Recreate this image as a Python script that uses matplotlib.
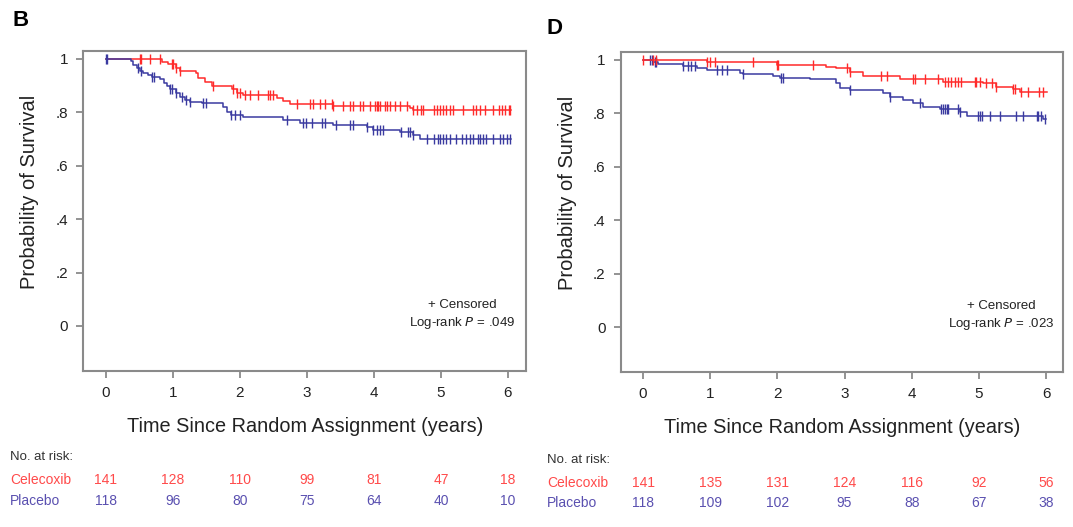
import numpy as np
import matplotlib
matplotlib.use("Agg")
import matplotlib.pyplot as plt
import matplotlib.transforms as mtransforms

# ---------------- data ----------------
# Panel B
b_red_t = [0, 0.83, 0.93, 1.05, 1.10, 1.35, 1.38, 1.48, 1.58, 1.88, 1.95, 2.05, 2.55, 2.65, 2.75, 3.39, 4.54, 4.59]
b_red_s = [1.0, 0.990, 0.981, 0.965, 0.955, 0.946, 0.928, 0.915, 0.899, 0.886, 0.871, 0.865, 0.853, 0.844, 0.831, 0.824, 0.815, 0.809]
b_red_end = 6.05
b_red_cens = [0.51, 0.53, 0.66, 0.81, 0.98, 1.00, 1.05, 1.10, 1.60, 1.90, 1.95, 2.00, 2.07, 2.15, 2.27, 2.42, 2.45, 2.50,
              2.85, 3.04, 3.09, 3.19, 3.27, 3.37, 3.39, 3.54, 3.64, 3.69, 3.79, 3.84, 3.94, 4.01, 4.04, 4.06, 4.09,
              4.16, 4.19, 4.24, 4.31, 4.39, 4.49, 4.59, 4.64, 4.71, 4.74, 4.89, 4.94, 4.98, 5.03, 5.08, 5.13, 5.18,
              5.33, 5.48, 5.53, 5.58, 5.66, 5.78, 5.86, 5.91, 5.96, 6.01, 6.03]

b_blue_t = [0, 0.38, 0.41, 0.46, 0.51, 0.557, 0.63, 0.68, 0.81, 0.86, 0.91, 0.96, 1.05, 1.10, 1.18, 1.25, 1.43, 1.75,
            1.80, 1.87, 2.05, 2.65, 2.90, 3.39, 3.89, 3.99, 4.39, 4.59, 4.69]
b_blue_s = [1.0, 0.994, 0.977, 0.965, 0.956, 0.946, 0.940, 0.931, 0.924, 0.911, 0.899, 0.886, 0.871, 0.859, 0.846,
            0.840, 0.834, 0.821, 0.803, 0.790, 0.781, 0.771, 0.761, 0.753, 0.744, 0.734, 0.728, 0.715, 0.699]
b_blue_end = 6.05
b_blue_cens = [0.0, 0.02, 0.48, 0.53, 0.68, 0.71, 0.96, 0.98, 1.05, 1.13, 1.20, 1.25, 1.45, 1.50, 1.87, 1.92, 2.00,
               2.70, 2.94, 2.99, 3.07, 3.22, 3.27, 3.44, 3.64, 3.69, 3.89, 3.99, 4.04, 4.09, 4.14, 4.41, 4.51, 4.54,
               4.59, 4.79, 4.89, 4.96, 4.98, 5.03, 5.08, 5.13, 5.23, 5.31, 5.38, 5.43, 5.48, 5.56, 5.58, 5.63, 5.68,
               5.78, 5.88, 5.93, 5.98, 6.03]

# Panel D
d_red_t = [0, 0.95, 1.99, 2.73, 2.88, 3.08, 3.28, 3.82, 4.47, 5.06, 5.26, 5.51, 5.61]
d_red_s = [1.0, 0.994, 0.981, 0.975, 0.969, 0.954, 0.940, 0.928, 0.919, 0.913, 0.900, 0.890, 0.881]
d_red_end = 6.02
d_red_cens = [0.0, 0.15, 0.20, 0.95, 1.00, 1.07, 1.64, 1.99, 2.01, 2.53, 3.03, 3.08, 3.55, 3.63, 4.02, 4.05, 4.20,
              4.39, 4.49, 4.54, 4.59, 4.64, 4.69, 4.74, 4.94, 4.96, 5.01, 5.11, 5.19, 5.26, 5.51, 5.54, 5.63, 5.73,
              5.90, 5.96]

d_blue_t = [0, 0.15, 0.23, 0.60, 0.80, 0.95, 1.44, 1.49, 1.94, 2.04, 2.48, 2.88, 2.93, 3.08, 3.58, 3.68, 3.87,
            4.02, 4.17, 4.42, 4.72, 4.82, 5.96]
d_blue_s = [1.0, 0.994, 0.985, 0.979, 0.970, 0.962, 0.953, 0.946, 0.940, 0.933, 0.929, 0.913, 0.894, 0.888, 0.875,
            0.863, 0.850, 0.838, 0.825, 0.816, 0.806, 0.790, 0.779]
d_blue_end = 6.0
d_blue_cens = [0.10, 0.13, 0.18, 0.20, 0.60, 0.67, 0.72, 0.77, 1.10, 1.17, 1.25, 1.49, 2.06, 2.09, 3.08, 3.68,
               4.12, 4.44, 4.47, 4.49, 4.52, 4.54, 4.69, 4.72, 4.99, 5.01, 5.04, 5.16, 5.31, 5.56, 5.66, 5.86,
               5.88, 5.93, 5.98]

risk_times = [0, 1, 2, 3, 4, 5, 6]
b_risk_celecoxib = [141, 128, 110, 99, 81, 47, 18]
b_risk_placebo = [118, 96, 80, 75, 64, 40, 10]
d_risk_celecoxib = [141, 135, 131, 124, 116, 92, 56]
d_risk_placebo = [118, 109, 102, 95, 88, 67, 38]

x_ticks = [0, 1, 2, 3, 4, 5, 6]
y_ticks = [0, 0.2, 0.4, 0.6, 0.8, 1.0]
y_ticklabels = ["0", ".2", ".4", ".6", ".8", "1"]
b_pvalue = ".049"
d_pvalue = ".023"

# ---------------- style ----------------
RED = "#ff2a2a"
BLUE = "#3a3aa0"
RED_TXT = "#ff4a4a"
BLUE_TXT = "#5a50b0"
SPINE = "#8a8a8a"
FONT = ["Liberation Sans", "DejaVu Sans"]

plt.rcParams["font.family"] = FONT

fig = plt.figure(figsize=(10.73, 5.27), dpi=100)

axB = fig.add_axes([0.0778, 0.296, 0.4124, 0.6078])
axD = fig.add_axes([0.5785, 0.2941, 0.4122, 0.6078])


def step_at(t, s, x):
    idx = np.searchsorted(np.asarray(t), np.asarray(x), side="right") - 1
    return np.asarray(s)[idx]


def draw_curve(ax, t, s, end, cens, color, z):
    tt = list(t) + [end]
    ss = list(s) + [s[-1]]
    ax.step(tt, ss, where="post", color=color, lw=1.1, zorder=z)
    cy = step_at(t, s, cens)
    ax.plot(cens, cy, linestyle="none", marker="|", markersize=7.5, mew=1.0, color=color, zorder=z)


def style_axes(ax, xlim, ylim):
    ax.set_xlim(*xlim)
    ax.set_ylim(*ylim)
    ax.set_xticks(x_ticks)
    ax.set_xticklabels([str(v) for v in x_ticks])
    ax.set_yticks(y_ticks)
    ax.set_yticklabels(y_ticklabels)
    for sp in ax.spines.values():
        sp.set_color(SPINE)
        sp.set_linewidth(1.5)
    ax.tick_params(direction="out", length=5, width=1.3, color=SPINE, labelsize=11,
                   labelcolor="#222222", pad=6)
    ax.set_ylabel("Probability of Survival", fontsize=14.5, color="#222222")
    ax.yaxis.set_label_coords(-0.10, 0.56)
    ax.set_xlabel("Time Since Random Assignment (years)", fontsize=14.3, color="#222222")
    ax.xaxis.set_label_coords(0.5, -0.145)


# Panel B
draw_curve(axB, b_red_t, b_red_s, b_red_end, b_red_cens, RED, 3)
draw_curve(axB, b_blue_t, b_blue_s, b_blue_end, b_blue_cens, BLUE, 4)
style_axes(axB, (-0.336, 6.27), (-0.169, 1.031))

# Panel D
draw_curve(axD, d_red_t, d_red_s, d_red_end, d_red_cens, RED, 4)
draw_curve(axD, d_blue_t, d_blue_s, d_blue_end, d_blue_cens, BLUE, 3)
style_axes(axD, (-0.332, 6.253), (-0.1685, 1.031))

for ax, p, xf in [(axB, b_pvalue, 0.855), (axD, d_pvalue, 0.86)]:
    ax.text(xf, 0.205, "+ Censored", transform=ax.transAxes, ha="center", va="center",
            fontsize=9.5, color="#222222")
    ax.text(xf, 0.15, "Log-rank $\\it{P}$ = " + p, transform=ax.transAxes, ha="center", va="center",
            fontsize=9.5, color="#222222")

# Panel letters
fig.text(12 / 1073, 1 - 21 / 527, "B", fontsize=16, fontweight="bold", va="center", ha="left")
fig.text(546 / 1073, 1 - 28 / 527, "D", fontsize=16, fontweight="bold", va="center", ha="left")


# Number at risk tables
def risk_table(ax, cel, pla, x_lab, y_head, y_cel, y_pla):
    fig.text(x_lab / 1073, 1 - y_head / 527, "No. at risk:", fontsize=9.5, color="#333333",
             va="center", ha="left")
    fig.text(x_lab / 1073, 1 - y_cel / 527, "Celecoxib", fontsize=10, color=RED_TXT, va="center", ha="left")
    fig.text(x_lab / 1073, 1 - y_pla / 527, "Placebo", fontsize=10, color=BLUE_TXT, va="center", ha="left")
    tr = mtransforms.blended_transform_factory(ax.transData, fig.transFigure)
    for t, c, p in zip(risk_times, cel, pla):
        ax.text(t, 1 - y_cel / 527, str(c), transform=tr, fontsize=10, color=RED_TXT,
                ha="center", va="center", clip_on=False)
        ax.text(t, 1 - y_pla / 527, str(p), transform=tr, fontsize=10, color=BLUE_TXT,
                ha="center", va="center", clip_on=False)


risk_table(axB, b_risk_celecoxib, b_risk_placebo, 10, 457, 480, 501)
risk_table(axD, d_risk_celecoxib, d_risk_placebo, 547, 460, 483, 503)

fig.savefig("out.png", dpi=100)
